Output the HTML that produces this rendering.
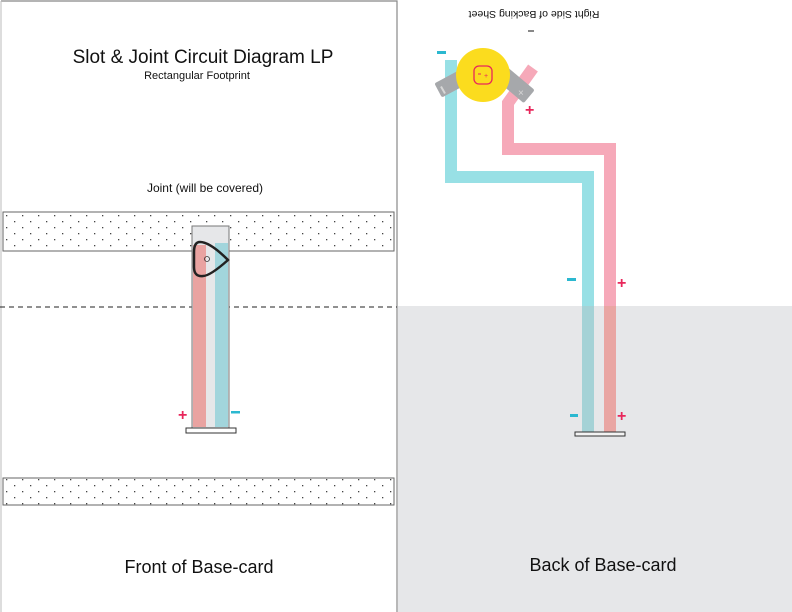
<!DOCTYPE html>
<html><head><meta charset="utf-8"><style>
html,body{margin:0;padding:0;background:#fff}
svg{display:block}
text{font-family:"Liberation Sans",sans-serif}
</style></head><body>
<svg width="792" height="612" viewBox="0 0 792 612" xmlns="http://www.w3.org/2000/svg">
<defs>
<pattern id="dots" x="3" y="212" width="16" height="12" patternUnits="userSpaceOnUse">
<rect x="3" y="3" width="1.3" height="1.3" fill="#444"/>
<rect x="11" y="9" width="1.3" height="1.3" fill="#444"/>
</pattern>
</defs>
<rect x="0" y="0" width="792" height="612" fill="#fff"/>
<rect x="398" y="306" width="394" height="306" fill="#e6e7e9"/>
<path d="M1 1 H397 V612" fill="none" stroke="#888" stroke-width="1.2"/>
<line x1="1" y1="1" x2="1" y2="612" stroke="#bbb" stroke-width="1"/>
<text x="203" y="63" font-size="19" text-anchor="middle" fill="#111">Slot &amp; Joint Circuit Diagram LP</text>
<text x="197" y="79" font-size="11" text-anchor="middle" fill="#111">Rectangular Footprint</text>
<text x="205" y="192" font-size="12" text-anchor="middle" fill="#111">Joint  (will be covered)</text>
<text x="199" y="573" font-size="18" text-anchor="middle" fill="#111">Front of Base-card</text>
<text x="603" y="571" font-size="18" text-anchor="middle" fill="#111">Back of Base-card</text>
<text x="534" y="11" font-size="10.5" text-anchor="middle" fill="#111" transform="rotate(180 534 11)">Right Side of Backing Sheet</text>
<line x1="528" y1="31" x2="534" y2="31" stroke="#111" stroke-width="1"/>
<rect x="3" y="212" width="391" height="39" fill="url(#dots)" stroke="#666" stroke-width="1"/>
<rect x="3" y="478" width="391" height="27" fill="url(#dots)" stroke="#666" stroke-width="1"/>
<line x1="0" y1="307" x2="397" y2="307" stroke="#222" stroke-width="1" stroke-dasharray="5,4"/>
<rect x="192" y="226" width="37" height="202" fill="#e6e7e9" stroke="#777" stroke-width="1"/>
<rect x="193" y="245" width="13" height="182" fill="#e9a3a1"/>
<rect x="215" y="243" width="13" height="184" fill="#a2d5dc"/>
<rect x="186" y="428" width="50" height="5" fill="#fff" stroke="#333" stroke-width="1"/>
<path d="M200 242 Q194 242 194 252 V267 Q194 277 203 276 Q210 276 228 260 Q210 242 200 242 Z" fill="none" stroke="#222" stroke-width="2.5"/>
<circle cx="207" cy="259" r="2.5" fill="none" stroke="#333" stroke-width="0.8"/>
<text x="178" y="420" font-size="16" font-weight="bold" fill="#e8275b">+</text>
<rect x="231" y="411" width="9" height="2.5" fill="#2bb8d0"/>
<path d="M451 60 V177 H588 V432" fill="none" stroke="#98e0e5" stroke-width="12"/>
<path d="M533 68 L508 103 V149 H610 V432" fill="none" stroke="#f6a9b9" stroke-width="12"/>
<rect x="582" y="306" width="12" height="126" fill="#a5d2d6"/>
<rect x="604" y="306" width="12" height="126" fill="#e9a6a3"/>
<rect x="575" y="432" width="50" height="4" fill="#f3f3f3" stroke="#333" stroke-width="1"/>
<g fill="#a6a8ab">
<rect x="436" y="74" width="36" height="16" rx="2" transform="rotate(-28 454 82)"/>
<rect x="496" y="76" width="38" height="17" rx="2" transform="rotate(40 515 84)"/>
</g>
<rect x="442" y="86" width="2" height="8" fill="#d7d7d7" transform="rotate(-30 443 90)"/>
<text x="518" y="96" font-size="10" fill="#d8d8d8">×</text>
<circle cx="483" cy="75" r="27" fill="#fbdc1e"/>
<rect x="474" y="66" width="18" height="18" rx="5" fill="none" stroke="#e8275b" stroke-width="1.3"/>
<line x1="478" y1="74" x2="481" y2="74" stroke="#e8275b" stroke-width="1"/>
<text x="484" y="78" font-size="7" fill="#e8275b">+</text>
<rect x="437" y="51" width="9" height="3" fill="#2bb8d0"/>
<text x="525" y="115" font-size="16" font-weight="bold" fill="#e8275b">+</text>
<rect x="567" y="278" width="9" height="3" fill="#2bb8d0"/>
<text x="617" y="288" font-size="16" font-weight="bold" fill="#e8275b">+</text>
<rect x="570" y="414" width="8" height="3" fill="#2bb8d0"/>
<text x="617" y="421" font-size="16" font-weight="bold" fill="#e8275b">+</text>
</svg>
</body></html>
